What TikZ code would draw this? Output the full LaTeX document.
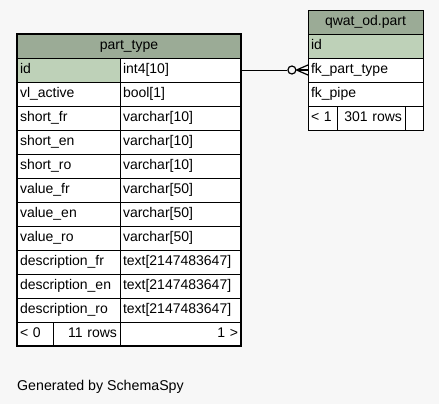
\documentclass[tikz,border=0pt]{standalone}
\usepackage{fontspec}
\setmainfont{Liberation Sans}
\usetikzlibrary{positioning}

\definecolor{headgreen}{HTML}{9BAB96}
\definecolor{keygreen}{HTML}{BED1B8}
\definecolor{paper}{HTML}{F7F7F7}

\tikzset{
	cell/.style={draw, fill=white, outer sep=0pt, inner xsep=3pt, inner ysep=0pt,
		minimum height=24pt, text height=10pt, text depth=3pt, align=left,
		font=\fontsize{14}{16}\selectfont},
	namecol/.style={cell, text width=97pt},
	typecol/.style={cell, text width=115pt},
	onecol/.style={cell, text width=109pt},
	head/.style={cell, fill=headgreen, align=center},
	key/.style={fill=keygreen},
	crow/.style={line width=1.2pt},
}

\begin{document}
\begin{tikzpicture}[x=1pt,y=-1pt]
	\useasboundingbox[fill=paper] (0,0) rectangle (439,404);
	% part_type
	\node[head, text width=218pt, anchor=north west] (h) at (17,34) {part\_type};
	\node[namecol, key, below right=0pt of h.south west] (id) {id};
	\node[typecol, right=0pt of id] (idt) {int4[10]};
	\node[namecol, below=0pt of id] (r1) {vl\_active};
	\node[typecol, right=0pt of r1] (r1t) {bool[1]};
	\node[namecol, below=0pt of r1] (r2) {short\_fr};
	\node[typecol, right=0pt of r2] (r2t) {varchar[10]};
	\node[namecol, below=0pt of r2] (r3) {short\_en};
	\node[typecol, right=0pt of r3] (r3t) {varchar[10]};
	\node[namecol, below=0pt of r3] (r4) {short\_ro};
	\node[typecol, right=0pt of r4] (r4t) {varchar[10]};
	\node[namecol, below=0pt of r4] (r5) {value\_fr};
	\node[typecol, right=0pt of r5] (r5t) {varchar[50]};
	\node[namecol, below=0pt of r5] (r6) {value\_en};
	\node[typecol, right=0pt of r6] (r6t) {varchar[50]};
	\node[namecol, below=0pt of r6] (r7) {value\_ro};
	\node[typecol, right=0pt of r7] (r7t) {varchar[50]};
	\node[namecol, below=0pt of r7] (r8) {description\_fr};
	\node[typecol, right=0pt of r8] (r8t) {text[2147483647]};
	\node[namecol, below=0pt of r8] (r9) {description\_en};
	\node[typecol, right=0pt of r9] (r9t) {text[2147483647]};
	\node[namecol, below=0pt of r9] (r10) {description\_ro};
	\node[typecol, right=0pt of r10] (r10t) {text[2147483647]};
	\node[cell, text width=30pt, below right=0pt of r10.south west] (f1) {< 0};
	\node[cell, text width=61pt, align=right, right=0pt of f1] (f2) {11 rows};
	\node[typecol, align=right, right=0pt of f2] (f3) {1 >};
	\draw[line width=2.6pt] (h.north west) rectangle (f3.south east);
	% qwat_od.part
	\node[head, text width=109pt, anchor=north west] (q) at (308,10) {qwat\_od.part};
	\node[onecol, key, below=0pt of q] (qid) {id};
	\node[onecol, below=0pt of qid] (qfk) {fk\_part\_type};
	\node[onecol, below=0pt of qfk] (qpipe) {fk\_pipe};
	\node[cell, text width=23pt, below right=0pt of qpipe.south west] (g1) {< 1};
	\node[cell, text width=62pt, align=right, right=0pt of g1] (g2) {301 rows};
	\node[cell, text width=12pt, right=0pt of g2] (g3) {};
	% zero or many
	\node[circle, crow, draw, fill=paper, inner sep=0pt, minimum size=8pt, left=11.5pt of qfk] (o) {};
	\draw (idt.east) -- (o.west);
	\draw[crow] (o.east) -- (qfk.west);
	\draw[crow] (o.east) -- ([yshift=5pt]qfk.west);
	\draw[crow] (o.east) -- ([yshift=-5pt]qfk.west);
	%\draw[dashed] (idt.east) -- (qfk.west);
	\node[anchor=base west, inner sep=0pt, font=\fontsize{14.2}{16}\selectfont] (gen) at (17,390) {Generated by SchemaSpy};
\end{tikzpicture}
\end{document}
